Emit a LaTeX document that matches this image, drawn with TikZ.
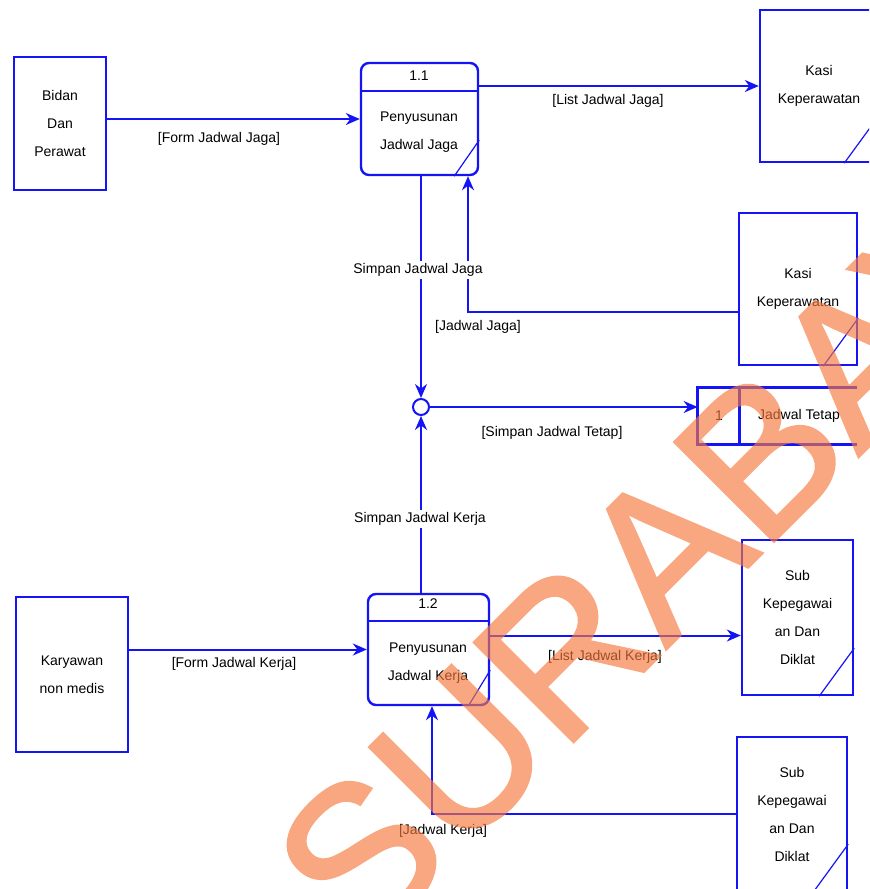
\documentclass[tikz,border=0pt]{standalone}
\usepackage{fontspec}
\setmainfont{Liberation Sans}
\newfontfamily\wmfont[FakeBold=1.5]{Liberation Sans}
\usetikzlibrary{arrows.meta,positioning,calc}
\definecolor{dfdblue}{RGB}{20,20,245}
\definecolor{wmorange}{RGB}{246,120,60}

\begin{document}
\begin{tikzpicture}[x=0.5pt,y=-0.5pt,>=Stealth,
  ext/.style={rectangle,draw=dfdblue,line width=1.2pt,align=center,inner sep=0pt,font=\fontsize{7}{14}\selectfont},
  proc/.style={rectangle,rounded corners=4pt,draw=dfdblue,line width=1.2pt,inner sep=0pt},
  txt/.style={align=center,inner sep=1pt,font=\fontsize{7}{14}\selectfont},
  lbl/.style={inner sep=1pt,font=\fontsize{7}{9}\selectfont},
  flow/.style={draw=dfdblue,line width=1pt,-{Stealth[length=7pt,width=6pt]}},
  link/.style={draw=dfdblue,line width=1pt},
  corner/.style={draw=dfdblue,line width=0.6pt},
  wm/.style={text=wmorange,inner sep=0pt,font=\wmfont\fontsize{102}{102}\selectfont}]
  \useasboundingbox (0,0) rectangle (869,889);
  \clip (0,0) rectangle (869,889);
  %--- externe entiteiten ---
  \node[ext,minimum width=46pt,minimum height=66.5pt] (bidan) at (60,123.5) {Bidan\\Dan\\Perawat};
  \node[ext,minimum width=59pt,minimum height=76pt] (kasiA) at (819,86) {Kasi\\Keperawatan};
  \node[ext,minimum width=59pt,minimum height=76pt] (kasiB) at (798,289) {Kasi\\Keperawatan};
  \node[ext,minimum width=56pt,minimum height=77.5pt] (karyawan) at (72,674.5) {Karyawan\\non medis};
  \node[ext,minimum width=55.5pt,minimum height=77.5pt] (subA) at (797.5,617.5) {Sub\\Kepegawai\\an Dan\\Diklat};
  \node[ext,minimum width=55pt,minimum height=77pt] (subB) at (792,814) {Sub\\Kepegawai\\an Dan\\Diklat};
  \foreach \n in {kasiA,kasiB,subA,subB}
    \draw[corner] ([xshift=-17.5pt]\n.south east) -- ([yshift=24pt]\n.south east);
  %--- proses ---
  \node[proc,minimum width=58.5pt,minimum height=56pt] (p1) at (419.5,119) {};
  \draw[link,line width=1.2pt] ([yshift=-14.5pt]p1.north west) -- ([yshift=-14.5pt]p1.north east);
  \draw[corner] ([xshift=-12.5pt]p1.south east) -- ([yshift=18pt]p1.south east);
  \node[txt] (p1id) at (419,76) {1.1};
  \node[txt] (p1txt) at (419,132) {Penyusunan\\Jadwal Jaga};
  \node[proc,minimum width=60.5pt,minimum height=55.5pt] (p2) at (428.5,649.5) {};
  \draw[link,line width=1.2pt] ([yshift=-14pt]p2.north west) -- ([yshift=-14pt]p2.north east);
  \draw[corner] ([xshift=-11pt]p2.south east) -- ([yshift=18pt]p2.south east);
  \node[txt] (p2id) at (428,604) {1.2};
  \node[txt] (p2txt) at (428,663) {Penyusunan\\Jadwal Kerja};
  %--- data store ---
  \node[minimum width=79.5pt,minimum height=28pt,inner sep=0pt] (ds) at (777.5,416) {};
  \draw[link,line width=1.2pt] (ds.north east) -- (ds.north west) -- (ds.south west) -- (ds.south east);
  \draw[link,line width=1.2pt] ([xshift=21pt]ds.north west) -- ([xshift=21pt]ds.south west);
  \node[txt] (dsid) at (719,416) {1};
  \node[txt] (dsname) at (799,416) {Jadwal Tetap};
  %--- junction ---
  \node[circle,draw=dfdblue,line width=1pt,minimum size=8pt,inner sep=0pt] (junc) at (421,407) {};
  %--- aliran data ---
  \draw[flow] (bidan.east |- p1.west) -- (p1.west);
  \draw[flow] (p1.east |- kasiA.west) -- (kasiA.west);
  \draw[flow] (p1.south -| junc) -- (junc.north);
  \draw[flow] ([yshift=-11.5pt]kasiB.west) -| ([xshift=24.25pt]p1.south);
  \draw[flow] (junc.east) -- (junc.east -| ds.west);
  \draw[flow] (p2.north -| junc) -- (junc.south);
  \draw[flow] (karyawan.east |- p2.west) -- (p2.west);
  \draw[flow] ([yshift=-9pt]subA.west -| p2.east) -- ([yshift=-9pt]subA.west);
  \draw[flow] (subB.west) -| ([xshift=1.75pt]p2.south);
  %--- label ---
  \node[lbl] (lfjj) at (219,139) {[Form Jadwal Jaga]};
  \node[lbl] (lljj) at (608,101) {[List Jadwal Jaga]};
  \node[lbl,fill=white] (lsjj) at (418,270) {Simpan Jadwal Jaga};
  \node[lbl] (ljj) at (478,327) {[Jadwal Jaga]};
  \node[lbl] (lsjt) at (552,433) {[Simpan Jadwal Tetap]};
  \node[lbl,fill=white] (lsjk) at (420,519) {Simpan Jadwal Kerja};
  \node[lbl] (lfjk) at (234,664) {[Form Jadwal Kerja]};
  \node[lbl] (lljk) at (605,657) {[List Jadwal Kerja]};
  \node[lbl] (ljk) at (443,831) {[Jadwal Kerja]};
  %--- watermark ---
  \begin{scope}[transparency group,opacity=0.65]
    \node[wm,rotate=45] (wmark) at (694,522) {SURABAYA};
  \end{scope}
\end{tikzpicture}
\end{document}
